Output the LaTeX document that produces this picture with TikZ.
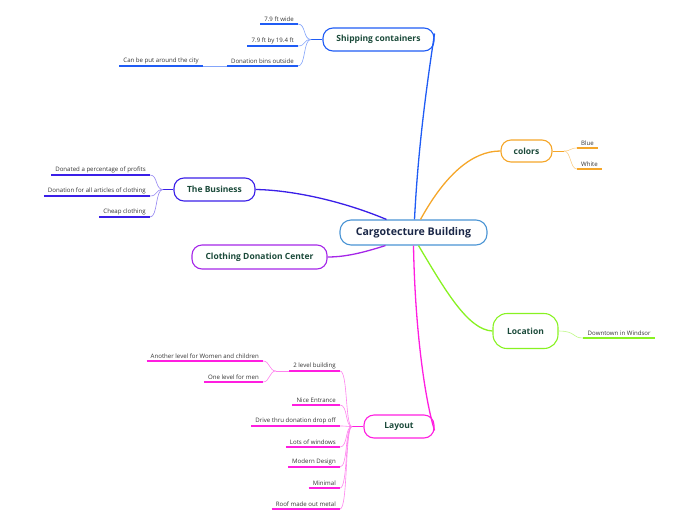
\documentclass[tikz,border=0pt]{standalone}
\usepackage{fontspec}
\setmainfont{Open Sans}
\begin{document}
\begin{tikzpicture}[x=1pt,y=-1pt,
  topic/.style={draw=#1, line width=1.1pt, rounded corners=10pt, inner sep=0pt,
    text=titlegreen, font=\fontsize{8.5}{10}\selectfont\bfseries},
  branch/.style={draw=#1, line width=1.3pt},
  sub/.style={draw=#1!55, line width=0.6pt},
  uline/.style={draw=#1, line width=1.4pt},
  item/.style={inner xsep=4pt, inner ysep=2.2pt, text=itemgray, font=\fontsize{6.1}{7}\selectfont},
]
\definecolor{titlegreen}{HTML}{1B4A3A}
\definecolor{navy}{HTML}{1A2747}
\definecolor{itemgray}{HTML}{333333}
\definecolor{cblue}{HTML}{4A94D4}
\definecolor{sblue}{HTML}{1F5CF5}
\definecolor{bviolet}{HTML}{3A1FE8}
\definecolor{cpurple}{HTML}{A526E8}
\definecolor{corange}{HTML}{F5A629}
\definecolor{lgreen}{HTML}{88F222}
\definecolor{lmag}{HTML}{FF1EE0}
\useasboundingbox (0,0) rectangle (696,520);

% central and branches
\node[topic=cblue, text=navy, font=\fontsize{10.6}{12}\selectfont\bfseries, minimum width=147pt, minimum height=25pt, rounded corners=11pt] (C) at (413.5,232.5) {Cargotecture Building};
\node[topic=sblue, minimum width=111pt, minimum height=23pt] (SC) at (378.5,39.5) {Shipping containers};
\node[topic=corange, minimum width=51pt, minimum height=22pt] (CO) at (526.5,151) {colors};
\node[topic=bviolet, minimum width=81pt, minimum height=23pt] (BU) at (214.5,189.5) {The Business};
\node[topic=cpurple, minimum width=135pt, minimum height=24pt] (CD) at (259.5,257) {Clothing Donation Center};
\node[topic=lgreen, minimum width=65pt, minimum height=35pt, rounded corners=14pt] (LO) at (525.5,331) {Location};
\node[topic=lmag, minimum width=70pt, minimum height=23pt] (LA) at (399,426.5) {Layout};

% central connectors
\draw[branch=sblue] ([xshift=1pt]C.north) .. controls (418,150) and (426,90) .. ([yshift=6pt]SC.east);
\draw[branch=corange] ([xshift=7pt]C.north) .. controls (445,175) and (472,151) .. (CO.west);
\draw[branch=bviolet] ([xshift=-27pt]C.north) .. controls (340,200) and (290,190) .. (BU.east);
\draw[branch=cpurple] ([xshift=-28pt]C.south) .. controls (362,253) and (345,257) .. (CD.east);
\draw[branch=lgreen] ([xshift=5pt]C.south) .. controls (445,290) and (468,330) .. (LO.west);
\draw[branch=lmag] (C.south) .. controls (415,330) and (425,400) .. ([yshift=-4pt]LA.east);

% Shipping containers items
\coordinate (JS) at (311,39.5);
\node[item, anchor=south east] (s1) at (298,24) {7.9 ft wide};
\node[item, anchor=south east] (s2) at (298,46) {7.9 ft by 19.4 ft};
\node[item, anchor=south east] (s3) at (298,66) {Donation bins outside};
\node[item, anchor=south east] (s4) at (203,66) {Can be put around the city};
\draw[branch=sblue, line width=1pt] (SC.west) -- (JS);
\foreach \n in {s1,s2,s3}{
  \draw[sub=sblue] (JS) .. controls (303,39.5) and (306,0|-\n.south) .. (\n.south east);
  \draw[uline=sblue] (\n.south west) -- (\n.south east);
}
\draw[sub=sblue] (s3.south west) -- (s4.south east);
\draw[uline=sblue] (s4.south west) -- (s4.south east);

% Business items
\coordinate (JB) at (163,189.5);
\node[item, anchor=south east] (b1) at (150,175) {Donated a percentage of profits};
\node[item, anchor=south east] (b2) at (150,196) {Donation for all articles of clothing};
\node[item, anchor=south east] (b3) at (150,217) {Cheap clothing};
\draw[branch=bviolet, line width=1pt] (BU.west) -- (JB);
\foreach \n in {b1,b2,b3}{
  \draw[sub=bviolet] (JB) .. controls (155,189.5) and (158,0|-\n.south) .. (\n.south east);
  \draw[uline=bviolet] (\n.south west) -- (\n.south east);
}

% colors items
\coordinate (JC) at (564,151);
\node[item, anchor=south west] (c1) at (577,148) {Blue};
\node[item, anchor=south west] (c2) at (577,169) {White};
\draw[branch=corange, line width=1pt] (CO.east) -- (JC);
\foreach \n in {c1,c2}{
  \draw[sub=corange] (JC) .. controls (571,151) and (570,0|-\n.south) .. (\n.south west);
  \draw[uline=corange] (\n.south west) -- (\n.south east);
}

% Location item
\node[item, anchor=south west, minimum width=72pt, align=center] (lo1) at (583,338) {Downtown in Windsor};
\draw[sub=lgreen] (LO.east) .. controls (576,331) and (572,338) .. (lo1.south west);
\draw[uline=lgreen] (lo1.south west) -- (lo1.south east);

% Layout items
\coordinate (JL) at (352,426.5);
\node[item, anchor=south east] (l1) at (340,371) {2 level building};
\node[item, anchor=south east] (l2) at (340,405) {Nice Entrance};
\node[item, anchor=south east] (l3) at (340,426) {Drive thru donation drop off};
\node[item, anchor=south east] (l4) at (340,447) {Lots of windows};
\node[item, anchor=south east] (l5) at (340,467) {Modern Design};
\node[item, anchor=south east] (l6) at (340,488) {Minimal};
\node[item, anchor=south east] (l7) at (340,509) {Roof made out metal};
\draw[branch=lmag, line width=1pt] (LA.west) -- (JL);
\foreach \n in {l1,l2,l3,l4,l5,l6,l7}{
  \draw[sub=lmag] (JL) .. controls (345,426.5) and (348,0|-\n.south) .. (\n.south east);
  \draw[uline=lmag] (\n.south west) -- (\n.south east);
}
\coordinate (JL1) at (276,371);
\node[item, anchor=south east] (l1a) at (263,361) {Another level for Women and children};
\node[item, anchor=south east] (l1b) at (263,382) {One level for men};
\draw[sub=lmag] (l1.south west) -- (JL1);
\foreach \n in {l1a,l1b}{
  \draw[sub=lmag] (JL1) .. controls (269,371) and (270,0|-\n.south) .. (\n.south east);
  \draw[uline=lmag] (\n.south west) -- (\n.south east);
}
\end{tikzpicture}
\end{document}
